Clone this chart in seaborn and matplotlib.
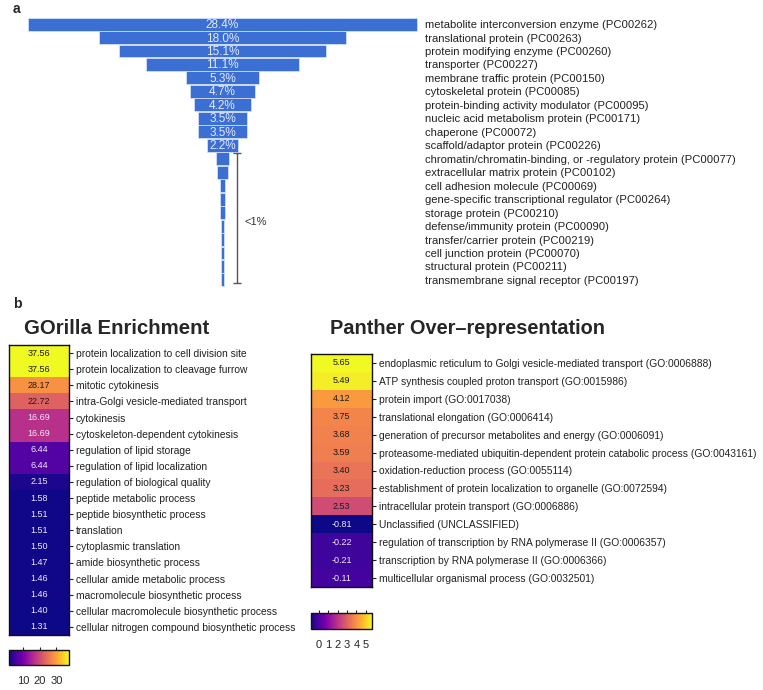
import numpy as np
import pandas as pd
import matplotlib
matplotlib.use("Agg")
import matplotlib.pyplot as plt
import seaborn as sns

sns.set_theme(style="white")
plt.rcParams["font.family"] = ["Liberation Sans", "DejaVu Sans"]

# ---- data: panel a (PANTHER protein classes) ----
pc_classes = [
    "metabolite interconversion enzyme (PC00262)",
    "translational protein (PC00263)",
    "protein modifying enzyme (PC00260)",
    "transporter (PC00227)",
    "membrane traffic protein (PC00150)",
    "cytoskeletal protein (PC00085)",
    "protein-binding activity modulator (PC00095)",
    "nucleic acid metabolism protein (PC00171)",
    "chaperone (PC00072)",
    "scaffold/adaptor protein (PC00226)",
    "chromatin/chromatin-binding, or -regulatory protein (PC00077)",
    "extracellular matrix protein (PC00102)",
    "cell adhesion molecule (PC00069)",
    "gene-specific transcriptional regulator (PC00264)",
    "storage protein (PC00210)",
    "defense/immunity protein (PC00090)",
    "transfer/carrier protein (PC00219)",
    "cell junction protein (PC00070)",
    "structural protein (PC00211)",
    "transmembrane signal receptor (PC00197)",
]
pc_percent = [28.4, 18.0, 15.1, 11.1, 5.3, 4.7, 4.2, 3.5, 3.5, 2.2,
              0.9, 0.75, 0.4, 0.4, 0.4, 0.15, 0.15, 0.15, 0.15, 0.15]

# ---- data: panel b ----
gorilla_terms = [
    "protein localization to cell division site",
    "protein localization to cleavage furrow",
    "mitotic cytokinesis",
    "intra-Golgi vesicle-mediated transport",
    "cytokinesis",
    "cytoskeleton-dependent cytokinesis",
    "regulation of lipid storage",
    "regulation of lipid localization",
    "regulation of biological quality",
    "peptide metabolic process",
    "peptide biosynthetic process",
    "translation",
    "cytoplasmic translation",
    "amide biosynthetic process",
    "cellular amide metabolic process",
    "macromolecule biosynthetic process",
    "cellular macromolecule biosynthetic process",
    "cellular nitrogen compound biosynthetic process",
]
gorilla_enrich = [37.56, 37.56, 28.17, 22.72, 16.69, 16.69, 6.44, 6.44, 2.15,
                  1.58, 1.51, 1.51, 1.50, 1.47, 1.46, 1.46, 1.40, 1.31]

panther_terms = [
    "endoplasmic reticulum to Golgi vesicle-mediated transport (GO:0006888)",
    "ATP synthesis coupled proton transport (GO:0015986)",
    "protein import (GO:0017038)",
    "translational elongation (GO:0006414)",
    "generation of precursor metabolites and energy (GO:0006091)",
    "proteasome-mediated ubiquitin-dependent protein catabolic process (GO:0043161)",
    "oxidation-reduction process (GO:0055114)",
    "establishment of protein localization to organelle (GO:0072594)",
    "intracellular protein transport (GO:0006886)",
    "Unclassified (UNCLASSIFIED)",
    "regulation of transcription by RNA polymerase II (GO:0006357)",
    "transcription by RNA polymerase II (GO:0006366)",
    "multicellular organismal process (GO:0032501)",
]
panther_fold = [5.65, 5.49, 4.12, 3.75, 3.68, 3.59, 3.40, 3.23, 2.53,
                -0.81, -0.22, -0.21, -0.11]

W, H = 763, 690
fig = plt.figure(figsize=(W / 100, H / 100), dpi=100)


def box(x0, y0, x1, y1):
    # pixel box (top-left origin) -> figure fraction rect
    return [x0 / W, 1 - y1 / H, (x1 - x0) / W, (y1 - y0) / H]


# ---- panel a: funnel ----
funnel = pd.DataFrame({"cls": pc_classes, "pct": pc_percent})
ax_a = fig.add_axes(box(27, 17.3, 418, 286.7))
sns.barplot(data=funnel, x="pct", y="cls", color="#3b6fd4", saturation=1,
            width=0.96, edgecolor="#dce6f8", linewidth=0.5, ax=ax_a)
# center each bar on zero
for p, v in zip(ax_a.patches, pc_percent):
    p.set_x(-v / 2)
for i, v in enumerate(pc_percent):
    if v >= 2:
        ax_a.text(0, i + 0.3, f"{v:.1f}%", ha="center", va="baseline",
                  color="#e4eafb", fontsize=8.5)
ax_a.errorbar(1.05, (9.55 + 19.25) / 2, yerr=(19.25 - 9.55) / 2, capsize=3,
              color="#555555", lw=1, capthick=1)
ax_a.text(1.6, 14.7, "<1%", ha="left", va="center", fontsize=8, color="#333333")
ax_a.set_xlim(-14.25, 14.25)
ax_a.set_ylim(len(pc_percent) - 0.5, -0.5)
ax_a.set_xlabel("")
ax_a.set_ylabel("")
ax_a.set_xticks([])
ax_a.yaxis.tick_right()
ax_a.tick_params(axis="y", length=0, pad=5, labelsize=8.1, labelcolor="#222222")
sns.despine(ax=ax_a, left=True, bottom=True, right=True, top=True)

fig.text(13 / W, 1 - 13 / H, "a", fontsize=10, weight="bold", va="baseline")
fig.text(13 / W, 1 - 308 / H, "b", fontsize=10, weight="bold", va="baseline")


# ---- panel b: heatmaps ----
def enrich_heatmap(values, terms, ax, cax, ticks):
    df = pd.DataFrame({"v": values}, index=terms)
    vmin, vmax = min(values), max(values)
    sns.heatmap(df, cmap="plasma", vmin=vmin, vmax=vmax, annot=True, fmt=".2f",
                annot_kws={"size": 6.5}, xticklabels=False, yticklabels=True,
                cbar_ax=cax, cbar_kws={"orientation": "horizontal", "ticks": ticks},
                ax=ax)
    for t, v in zip(ax.texts, values):
        frac = (v - vmin) / (vmax - vmin)
        t.set_color("#1a1a1a" if frac > 0.5 else "#f2eaf7")
    ax.yaxis.tick_right()
    ax.set_yticklabels(terms, rotation=0)
    ax.set_ylabel("")
    ax.tick_params(axis="y", right=True, length=3, width=0.8, color="#222222",
                   pad=2, labelsize=7.4, labelcolor="#222222")
    for s in ax.spines.values():
        s.set_visible(True)
        s.set_color("#111111")
        s.set_linewidth(1)
    cax.tick_params(axis="x", top=True, bottom=False, labelbottom=True,
                    direction="inout", length=4, width=0.8, color="#222222",
                    labelsize=8, pad=6)
    cax.minorticks_off()
    cb = ax.collections[0].colorbar
    cb.outline.set_edgecolor("#111111")
    cb.outline.set_linewidth(1)


ax_g = fig.add_axes(box(9, 345, 69, 635))
cax_g = fig.add_axes(box(9, 650, 69, 665))
enrich_heatmap(gorilla_enrich, gorilla_terms, ax_g, cax_g, [10, 20, 30])

ax_p = fig.add_axes(box(311, 354, 372, 587))
cax_p = fig.add_axes(box(311, 613, 372, 629))
enrich_heatmap(panther_fold, panther_terms, ax_p, cax_p, [0, 1, 2, 3, 4, 5])

fig.text(24 / W, 1 - 334 / H, "GOrilla Enrichment", fontsize=14.7,
         weight="bold", va="baseline")
fig.text(330 / W, 1 - 334 / H, "Panther Over\u2013representation", fontsize=14.4,
         weight="bold", va="baseline")

fig.savefig("out.png", dpi=100)
